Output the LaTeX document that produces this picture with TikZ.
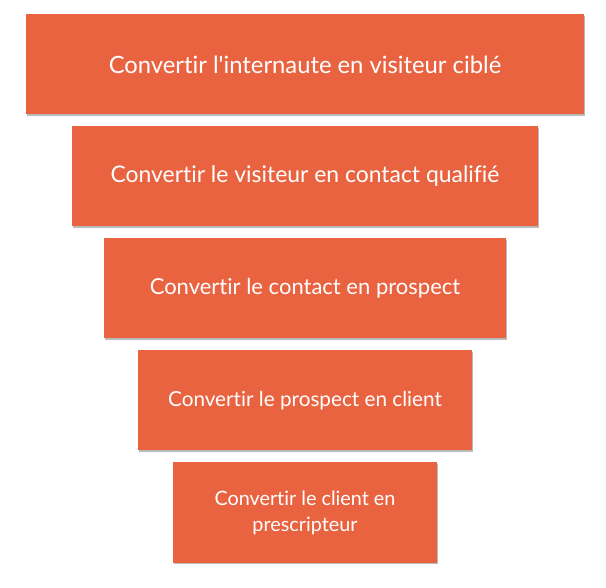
\documentclass[tikz,border=0pt]{standalone}
\usepackage{fontspec}
\setmainfont{Lato}[Ligatures={TeXOff,NoCommon}]
\usetikzlibrary{positioning, shadows}

\definecolor{funnelOrange}{RGB}{233,99,65}

\begin{document}
\begin{tikzpicture}[
      x=1pt, y=1pt,
      node distance = 12pt,
      stage/.style = {rectangle, fill=funnelOrange, text=white,
        align=center, inner sep=0pt, outer sep=0pt,
        minimum height=100pt,
        drop shadow={shadow xshift=1pt, shadow yshift=-1.5pt,
          opacity=0.45, fill=black!60}},
      fs/.style = {font=\fontsize{#1}{26}\selectfont}
    ]
    \useasboundingbox (0,0) rectangle (606,-588);

    % ---------------- funnel stages ----------------
    \node[stage, fs=23.8, minimum width=558pt] (visiteur) at (305,-64.5)
    {Convertir l'internaute en visiteur ciblé};
    \node[stage, fs=22.9, minimum width=466pt, below=of visiteur] (contact)
    {Convertir le visiteur en contact qualifié};
    \node[stage, fs=22, minimum width=402pt, below=of contact] (prospect)
    {Convertir le contact en prospect};
    \node[stage, fs=20.7, minimum width=334pt, below=of prospect] (client)
    {Convertir le prospect en client};
    \node[stage, fs=19.8, minimum width=264pt, below=of client] (prescripteur)
    {Convertir le client en\\prescripteur};

  \end{tikzpicture}
\end{document}
